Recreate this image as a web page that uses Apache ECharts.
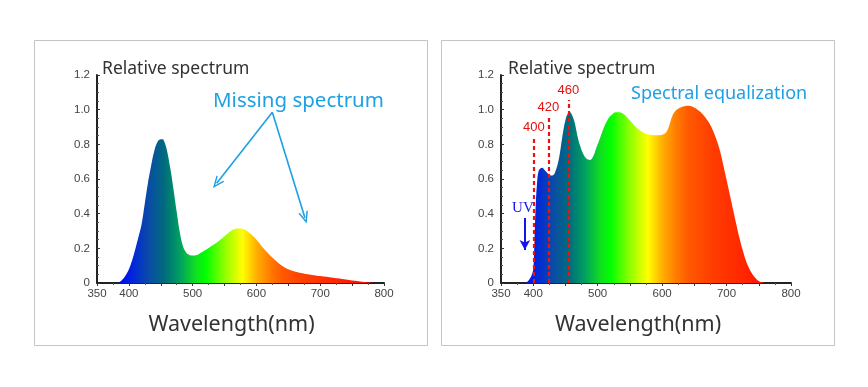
<!DOCTYPE html>
<html>
<head>
<meta charset="utf-8">
<script src="https://cdn.jsdelivr.net/npm/echarts@6/dist/echarts.min.js"></script>
<style>
html,body{margin:0;padding:0;background:#fff;}
#chart{width:868px;height:387px;}
</style>
</head>
<body>
<div id="chart"></div>
<script>
// ---------- data ----------
const xTicks = [350, 400, 500, 600, 700, 800];
const yTicks = [0, 0.2, 0.4, 0.6, 0.8, 1.0, 1.2];

const wlLeft  = [350,380,385,390,395,400,405,410,415,420,425,430,435,440,445,450,453,456,460,465,470,475,480,485,490,495,500,505,510,520,530,540,550,560,570,580,590,600,610,620,630,640,650,660,670,680,690,700,720,740,760,780,790,800];
const valLeft = [0,0,0.005,0.02,0.045,0.08,0.13,0.195,0.265,0.34,0.46,0.58,0.68,0.765,0.815,0.83,0.83,0.81,0.76,0.66,0.54,0.41,0.29,0.21,0.175,0.162,0.158,0.16,0.168,0.19,0.215,0.24,0.27,0.3,0.315,0.31,0.285,0.25,0.205,0.165,0.13,0.1,0.08,0.066,0.057,0.05,0.045,0.04,0.03,0.02,0.01,0.002,0,0];

const wlRight  = [350,385,390,394,397,399,400,401,402,403,404,406,408,411,414,418,422,427,431,435,440,445,450,454,457,460,464,468,472,477,482,488,493,498,504,510,516,522,528,534,540,546,552,558,564,570,576,582,588,594,600,604,608,612,616,620,625,630,635,640,645,650,655,660,665,670,675,680,685,690,695,700,705,710,715,720,725,730,735,740,745,750,755,760,800];
const valRight = [0,0,0.005,0.02,0.04,0.06,0.08,0.14,0.25,0.37,0.46,0.58,0.64,0.66,0.665,0.65,0.635,0.62,0.622,0.65,0.72,0.84,0.94,0.98,0.985,0.97,0.93,0.86,0.8,0.75,0.72,0.71,0.73,0.78,0.84,0.9,0.945,0.97,0.985,0.985,0.975,0.955,0.93,0.905,0.885,0.87,0.86,0.855,0.852,0.852,0.855,0.862,0.88,0.92,0.965,0.99,1.005,1.015,1.02,1.022,1.02,1.012,1.0,0.985,0.965,0.94,0.91,0.87,0.82,0.76,0.68,0.595,0.51,0.425,0.34,0.26,0.19,0.13,0.085,0.052,0.028,0.012,0.004,0,0];

// spectrum colour stops (wavelength -> colour)
const stopWl     = [390, 405, 430, 455, 480, 505, 520, 550, 578, 600, 620, 640, 680, 740, 790];
const stopColors = ['#0010f0','#0025dd','#0a4aa8','#006a7e','#00a060','#10e020','#00ff00','#90ff00','#ffff00','#ffb000','#ff8000','#ff5a00','#ff3c00','#ff2000','#ff0000'];

// annotations
const markerWl    = [401, 423.5, 454.6];
const markerTop   = [0.844, 0.96, 1.056];
const markerText  = ['400', '420', '460'];
const uvArrow     = [[387, 0.375], [387, 0.19]];
const uvText      = [384, 0.433];
const missingArrows = [[[624.9, 0.985], [537.7, 0.575]], [[624.9, 0.985], [676, 0.377]]];

// ---------- chart ----------
const X_MIN = 350, X_MAX = 800;
function gradient() {
  const stops = stopWl.map((w, i) => ({ offset: (w - X_MIN) / (X_MAX - X_MIN), color: stopColors[i] }));
  return new echarts.graphic.LinearGradient(0, 0, 1, 0, stops);
}
const pairs = (xs, ys) => xs.map((x, i) => [x, ys[i]]);

function xAxis(gi) {
  return {
    gridIndex: gi, type: 'value', min: X_MIN, max: X_MAX, interval: 50,
    axisLine: { show: true, onZero: false, lineStyle: { color: '#222', width: 2 } },
    axisTick: { show: true, length: 3, lineStyle: { color: '#333' } },
    minorTick: { show: true, splitNumber: 2, length: 2, lineStyle: { color: '#555' } },
    splitLine: { show: false },
    axisLabel: {
      color: '#444', fontSize: 11.5, fontFamily: 'Liberation Sans', margin: 5,
      formatter: v => xTicks.indexOf(v) >= 0 ? String(v) : ''
    }
  };
}
function yAxis(gi) {
  return {
    gridIndex: gi, type: 'value', min: 0, max: 1.2, interval: 0.2,
    axisLine: { show: true, lineStyle: { color: '#222', width: 2 } },
    axisTick: { show: true, inside: true, length: 3, lineStyle: { color: '#333' } },
    minorTick: { show: true, splitNumber: 4, length: 2, lineStyle: { color: '#555' } },
    splitLine: { show: false },
    axisLabel: {
      color: '#444', fontSize: 11.5, fontFamily: 'Liberation Sans', margin: 7,
      formatter: v => yTicks.some(t => Math.abs(t - v) < 1e-6) ? (v === 0 ? '0' : v.toFixed(1)) : ''
    }
  };
}

const chevron = 'path://M5,0 L10,12 L8.4,12 L5,3.6 L1.6,12 L0,12 Z';
const blue = '#1ea0e3';

const leftMarkLine = {
  silent: true, animation: false,
  data: missingArrows.map(a => [
    { coord: a[0], symbol: 'none', lineStyle: { color: blue, width: 1.6, type: 'solid' }, label: { show: false } },
    { coord: a[1], symbol: chevron, symbolSize: [10, 12] }
  ])
};

const rightMarkLine = {
  silent: true, animation: false,
  data: markerWl.map((w, i) => [
    { coord: [w, 0], symbol: 'none',
      lineStyle: { color: '#ee1111', width: 2.2, type: [4, 3] },
      label: { show: true, position: 'end', formatter: markerText[i], color: '#e51010', fontSize: 13, fontFamily: 'Liberation Sans', distance: 3 } },
    { coord: [w, markerTop[i]], symbol: 'none' }
  ]).concat([[
    { coord: uvArrow[0], symbol: 'none', lineStyle: { color: '#1414f0', width: 2, type: 'solid' }, label: { show: false } },
    { coord: uvArrow[1], symbol: 'arrow', symbolSize: [8, 10] }
  ]])
};

const rightMarkPoint = {
  silent: true, animation: false,
  data: [{ coord: uvText, symbol: 'circle', symbolSize: 1, itemStyle: { color: 'rgba(0,0,0,0)' },
    label: { show: true, position: 'inside', formatter: 'UV', color: '#1414f0', fontSize: 15, fontFamily: 'Liberation Serif' } }]
};

function txt(x, y, text, size, color, align) {
  return { type: 'text', x: x, y: y, silent: true,
    style: { text: text, font: size + 'px "Noto Sans"', fill: color, align: align || 'left', verticalAlign: 'middle' } };
}

const option = {
  backgroundColor: '#fff',
  animation: false,
  grid: [
    { left: 97, top: 75, width: 287, height: 208 },
    { left: 501, top: 75, width: 290, height: 208 }
  ],
  xAxis: [xAxis(0), xAxis(1)],
  yAxis: [yAxis(0), yAxis(1)],
  series: [
    { type: 'line', xAxisIndex: 0, yAxisIndex: 0, data: pairs(wlLeft, valLeft),
      smooth: 0.4, showSymbol: false, lineStyle: { width: 0 },
      areaStyle: { color: gradient(), opacity: 1 }, z: 2, markLine: leftMarkLine },
    { type: 'line', xAxisIndex: 1, yAxisIndex: 1, data: pairs(wlRight, valRight),
      smooth: 0.4, showSymbol: false, lineStyle: { width: 0 },
      areaStyle: { color: gradient(), opacity: 1 }, z: 2, markLine: rightMarkLine, markPoint: rightMarkPoint }
  ],
  graphic: [
    { type: 'rect', shape: { x: 34.5, y: 40.5, width: 393, height: 305 }, style: { fill: 'none', stroke: '#c4c4c4', lineWidth: 1 }, silent: true },
    { type: 'rect', shape: { x: 441.5, y: 40.5, width: 393, height: 305 }, style: { fill: 'none', stroke: '#c4c4c4', lineWidth: 1 }, silent: true },
    txt(102, 69.5, 'Relative spectrum', 17.5, '#333'),
    txt(508, 69.5, 'Relative spectrum', 17.5, '#333'),
    txt(231.5, 324.5, 'Wavelength(nm)', 21.5, '#333', 'center'),
    txt(638, 324.5, 'Wavelength(nm)', 21.5, '#333', 'center'),
    txt(213, 101, 'Missing spectrum', 20.5, blue),
    txt(631, 93.5, 'Spectral equalization', 18, blue)
  ]
};

const chart = echarts.init(document.getElementById('chart'), null, { renderer: 'canvas' });
chart.setOption(option);
</script>
</body>
</html>
